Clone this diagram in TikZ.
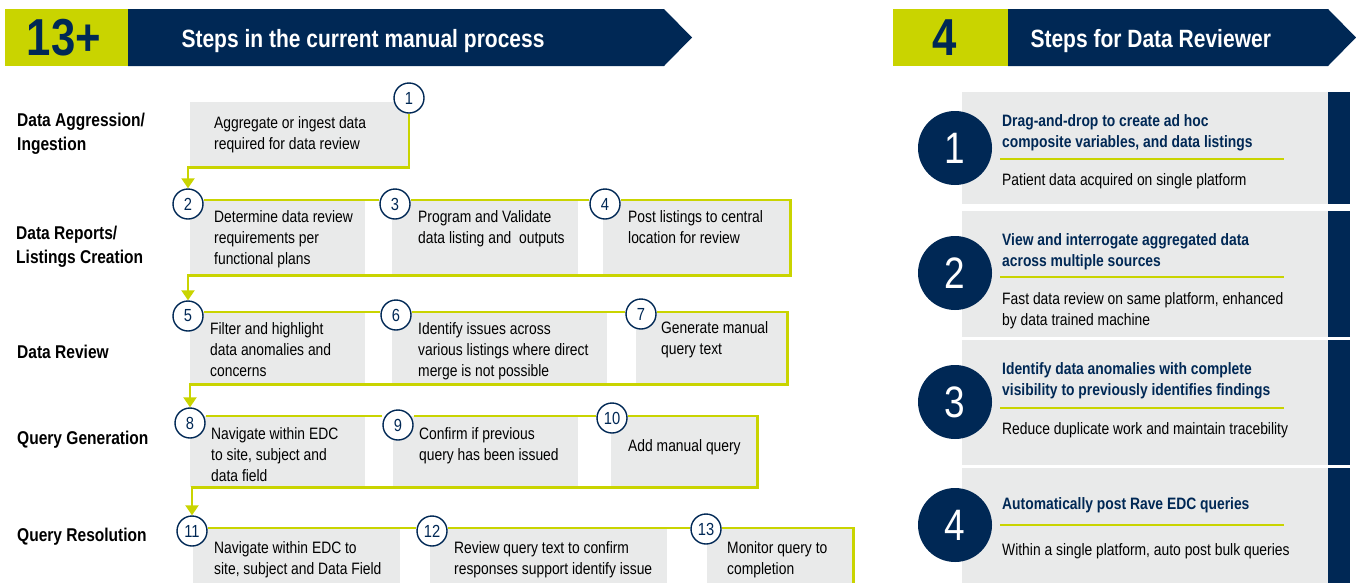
\documentclass[tikz,border=0pt]{standalone}
\usepackage{fontspec}
\setmainfont{Liberation Sans}[FakeStretch=0.84]
\usetikzlibrary{arrows.meta}

\definecolor{navy}{HTML}{002855}
\definecolor{lime}{HTML}{C9D400}
\definecolor{boxgray}{HTML}{E9EAEA}

\tikzset{
  stepbox/.style={fill=boxgray, anchor=north west, inner sep=0pt},
  steptext/.style={anchor=north west, align=left, inner sep=0pt,
    font=\fontsize{16.5}{21}\selectfont},
  stepnum/.style={circle, draw=navy, line width=1.4pt, fill=white,
    minimum size=30pt, inner sep=0pt, text=navy, font=\fontsize{17.5}{17.5}\selectfont},
  phase/.style={anchor=west, align=left, inner sep=0pt, font=\bfseries\fontsize{18.5}{24}\selectfont},
  flow/.style={draw=lime, line width=2.2pt},
  flowarrow/.style={flow, -{Triangle[length=10pt,width=13pt]}},
  card/.style={fill=boxgray, anchor=north west, inner sep=0pt, minimum width=366pt},
  bignum/.style={circle, fill=navy, minimum size=74pt, inner sep=0pt, text=white,
    font=\fontsize{44}{44}\selectfont},
  cardtitle/.style={anchor=north west, align=left, inner sep=0pt, text=navy,
    font=\bfseries\fontsize{16.5}{21}\selectfont},
  cardtext/.style={anchor=north west, align=left, inner sep=0pt,
    font=\fontsize{16.5}{21}\selectfont},
}

\begin{document}
\begin{tikzpicture}[x=1pt, y=-1pt]
  \useasboundingbox (0,0) rectangle (1356,582);

  % Banner left
  \fill[lime] (5,9) rectangle (128,66);
  \fill[navy] (128,9) -- (664,9) -- (692,37.5) -- (664,66) -- (128,66) -- cycle;
  \node[text=navy, font=\bfseries\fontsize{52}{52}\selectfont] (hcount) at (64,38) {13+};
  \node[anchor=base west, text=white, font=\bfseries\fontsize{25}{25}\selectfont] (htitle) at (178,47) {Steps in the current manual process};

  % Banner right
  \fill[lime] (893,9) rectangle (1008,66);
  \fill[navy] (1008,9) -- (1328,9) -- (1356,37.5) -- (1328,66) -- (1008,66) -- cycle;
  \node[text=navy, font=\bfseries\fontsize{52}{52}\selectfont] (rcount) at (945,38) {4};
  \node[anchor=base west, text=white, font=\bfseries\fontsize{25}{25}\selectfont] (rtitle) at (1027,47) {Steps for Data Reviewer};

  % Phases
  \node[phase] (p1) at (17,134) {Data Aggression/\\Ingestion};
  \node[phase] (p2) at (16,247) {Data Reports/\\Listings Creation};
  \node[phase] (p3) at (17,352) {Data Review};
  \node[phase] (p4) at (17,440) {Query Generation};
  \node[phase] (p5) at (17,537) {Query Resolution};

  % Boxes
  \node[stepbox, minimum width=220pt, minimum height=65pt] (b1) at (190,102) {};
  \node[stepbox, minimum width=175pt, minimum height=75pt] (b2) at (190,200) {};
  \node[stepbox, minimum width=186pt, minimum height=75pt] (b3) at (392,200) {};
  \node[stepbox, minimum width=187pt, minimum height=75pt] (b4) at (603,200) {};
  \node[stepbox, minimum width=175pt, minimum height=72pt] (b5) at (190,312) {};
  \node[stepbox, minimum width=215pt, minimum height=72pt] (b6) at (392,312) {};
  \node[stepbox, minimum width=151pt, minimum height=72pt] (b7) at (636,312) {};
  \node[stepbox, minimum width=175pt, minimum height=71pt] (b8) at (190,416) {};
  \node[stepbox, minimum width=185pt, minimum height=71pt] (b9) at (393,416) {};
  \node[stepbox, minimum width=146pt, minimum height=71pt] (b10) at (611,416) {};
  \node[stepbox, minimum width=207pt, minimum height=70pt] (b11) at (193,528) {};
  \node[stepbox, minimum width=237pt, minimum height=70pt] (b12) at (430,528) {};
  \node[stepbox, minimum width=146pt, minimum height=70pt] (b13) at (707,528) {};

  % Box texts
  \node[steptext] (t1) at (214,116) {Aggregate or ingest data\\required for data review};
  \node[steptext] (t2) at (214,210) {Determine data review\\requirements per\\functional plans};
  \node[steptext] (t3) at (418,210) {Program and Validate\\data listing and~ outputs};
  \node[steptext] (t4) at (628,210) {Post listings to central\\location for review};
  \node[steptext] (t5) at (210,322) {Filter and highlight\\data anomalies and\\concerns};
  \node[steptext] (t6) at (418,322) {Identify issues across\\various listings where direct\\merge is not possible};
  \node[steptext] (t7) at (661,321) {Generate manual\\query text};
  \node[steptext] (t8) at (211,427) {Navigate within EDC\\to site, subject and\\data field};
  \node[steptext] (t9) at (419,427) {Confirm if previous\\query has been issued};
  \node[steptext] (t10) at (628,439) {Add manual query};
  \node[steptext] (t11) at (214,541) {Navigate within EDC to\\site, subject and Data Field};
  \node[steptext] (t12) at (454,541) {Review query text to confirm\\responses support identify issue};
  \node[steptext] (t13) at (727,541) {Monitor query to\\completion};

  % Step numbers
  \node[stepnum] (c1) at (409,98) {1};
  \node[stepnum] (c2) at (188,204) {2};
  \node[stepnum] (c3) at (395,204) {3};
  \node[stepnum] (c4) at (605,204) {4};
  \node[stepnum] (c5) at (188,316) {5};
  \node[stepnum] (c6) at (396,315) {6};
  \node[stepnum] (c7) at (641,314) {7};
  \node[stepnum] (c8) at (190,423) {8};
  \node[stepnum] (c9) at (398,425) {9};
  \node[stepnum] (c10) at (612,418) {10};
  \node[stepnum] (c11) at (192,531) {11};
  \node[stepnum] (c12) at (432,531) {12};
  \node[stepnum] (c13) at (706,529) {13};

  % Routings
  \draw[flowarrow] (c1.south) |- (c2.north |- b1.south) -- (c2.north); % 1 to 2
  \draw[flow] (c2.east |- b2.north) -- (c3.west |- b2.north);
  \draw[flow] (c3.east |- b3.north) -- (c4.west |- b3.north);
  \draw[flowarrow] (c4.east |- b4.north) -| (b4.south east) -| (c5.north); % 4 to 5
  \draw[flow] (c5.east |- b5.north) -- (c6.west |- b5.north);
  \draw[flow] (c6.east |- b6.north) -- (c7.west |- b6.north);
  \draw[flowarrow] (c7.east |- b7.north) -| (b7.south east) -| (c8.north); % 7 to 8
  \draw[flow] (c8.east |- b8.north) -- (c9.west |- b8.north);
  \draw[flow] (c9.east |- b9.north) -- (c10.west |- b9.north);
  \draw[flowarrow] (c10.east |- b10.north) -| (b10.south east) -| (c11.north); % 10 to 11
  \draw[flow] (c11.east |- b11.north) -- (c12.west |- b11.north);
  \draw[flow] (c12.east |- b12.north) -- (c13.west |- b12.north);
  \draw[flow] (c13.east |- b13.north) -| (b13.south east); % 13 onwards

  % Reviewer cards
  \node[card, minimum height=112pt] (k1) at (962,92) {};
  \node[card, minimum height=126pt] (k2) at (962,211) {};
  \node[card, minimum height=125pt] (k3) at (962,340) {};
  \node[card, minimum height=130pt] (k4) at (962,468) {};
  \foreach \k in {k1,k2,k3,k4}
    \fill[navy] (\k.north east) rectangle ([xshift=22pt]\k.south east);

  \node[bignum] (n1) at (955,148) {1};
  \node[bignum] (n2) at (955,273) {2};
  \node[bignum] (n3) at (955,402) {3};
  \node[bignum] (n4) at (955,525) {4};

  % Card 1
  \node[cardtitle] (h1) at (1002,114) {Drag-and-drop to create ad hoc\\composite variables, and data listings};
  \draw[lime, line width=1.6pt] (1000,159) -- (1284,159);
  \node[cardtext] (s1) at (1002,173) {Patient data acquired on single platform};
  % Card 2
  \node[cardtitle] (h2) at (1002,233) {View and interrogate aggregated data\\across multiple sources};
  \draw[lime, line width=1.6pt] (1000,277) -- (1284,277);
  \node[cardtext] (s2) at (1002,292) {Fast data review on same platform, enhanced\\by data trained machine};
  % Card 3
  \node[cardtitle] (h3) at (1002,362) {Identify data anomalies with complete\\visibility to previously identifies findings};
  \draw[lime, line width=1.6pt] (1000,408) -- (1284,408);
  \node[cardtext] (s3) at (1002,422) {Reduce duplicate work and maintain tracebility};
  % Card 4
  \node[cardtitle] (h4) at (1002,497) {Automatically post Rave EDC queries};
  \draw[lime, line width=1.6pt] (1000,525) -- (1284,525);
  \node[cardtext] (s4) at (1002,543) {Within a single platform, auto post bulk queries};
\end{tikzpicture}
\end{document}
